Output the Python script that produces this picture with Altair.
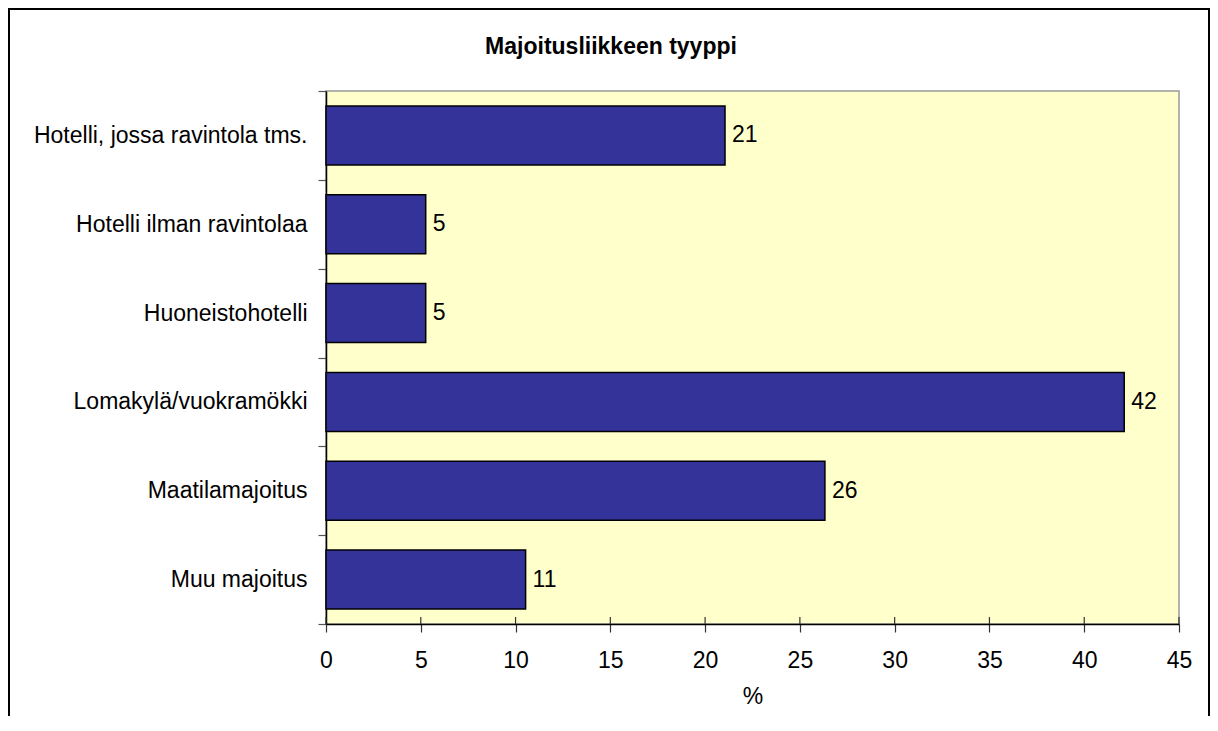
import altair as alt
import pandas as pd

categories = [
    "Hotelli, jossa ravintola tms.",
    "Hotelli ilman ravintolaa",
    "Huoneistohotelli",
    "Lomakylä/vuokramökki",
    "Maatilamajoitus",
    "Muu majoitus",
]
values = [21.05, 5.26, 5.26, 42.11, 26.32, 10.53]
x_ticks = [0, 5, 10, 15, 20, 25, 30, 35, 40, 45]
title_text = ["Majoitusliikkeen tyyppi"]
x_title = "%"

FONT = "Liberation Sans"

df = pd.DataFrame({"cat": categories, "val": values})
ticks_df = pd.DataFrame({"t": x_ticks})
title_df = pd.DataFrame({"title": title_text})

x_scale = alt.Scale(domain=[0, 45], nice=False, zero=True)
y_scale = alt.Scale(domain=categories, paddingInner=0, paddingOuter=0)

border = alt.Chart(title_df).mark_rect(
    fillOpacity=0, stroke="black", strokeWidth=2
).encode(
    x=alt.value(-317), x2=alt.value(883), y=alt.value(-82), y2=alt.value(720)
)

title = alt.Chart(title_df).mark_text(
    font=FONT, fontSize=23, fontWeight="bold", align="center",
    baseline="alphabetic", color="black"
).encode(x=alt.value(285), y=alt.value(-37), text="title:N")

bars = alt.Chart(df).mark_bar(
    height={"band": 0.665}, color="#333399", stroke="black", strokeWidth=1.5
).encode(
    x=alt.X("val:Q", scale=x_scale, title=x_title, axis=alt.Axis(values=x_ticks)),
    y=alt.Y("cat:N", scale=y_scale, sort=categories, title=None),
)

labels = alt.Chart(df).mark_text(
    font=FONT, fontSize=23, align="left", baseline="middle", dx=7, color="black"
).encode(
    x=alt.X("val:Q", scale=x_scale, title=x_title),
    y=alt.Y("cat:N", scale=y_scale, sort=categories, title=None),
    text=alt.Text("val:Q", format=".0f"),
)

inner_ticks = alt.Chart(ticks_df).mark_rule(color="#333333", strokeWidth=1.2).encode(
    x=alt.X("t:Q", scale=x_scale, title=x_title),
    y=alt.value(526),
    y2=alt.value(533),
)

chart = (
    alt.layer(border, title, bars, labels, inner_ticks)
    .properties(
        width=853,
        height=533,
        padding={"left": 318, "top": 83, "right": 31, "bottom": 92},
        autosize=alt.AutoSizeParams(type="none"),
        background="white",
    )
    .configure_view(fill="#FFFFCC", stroke="#999999", strokeWidth=1.5)
    .configure_axisX(
        grid=False,
        domainColor="black",
        domainWidth=1.5,
        tickColor="#333333",
        tickSize=8,
        tickWidth=1.2,
        labelFont=FONT,
        labelFontSize=23,
        labelColor="black",
        labelBaseline="alphabetic",
        labelPadding=35,
        labelFlush=False,
        titleFont=FONT,
        titleFontSize=23,
        titleFontWeight="normal",
        titleColor="black",
        titleBaseline="alphabetic",
        titlePadding=31,
    )
    .configure_axisY(
        grid=False,
        domainColor="black",
        domainWidth=1.5,
        tickColor="#555555",
        tickSize=8,
        tickWidth=1.2,
        tickBand="extent",
        labelFont=FONT,
        labelFontSize=23,
        labelColor="black",
        labelPadding=11,
        labelLimit=400,
    )
)

chart.save("out.html", embed_options={"renderer": "svg", "actions": False})
